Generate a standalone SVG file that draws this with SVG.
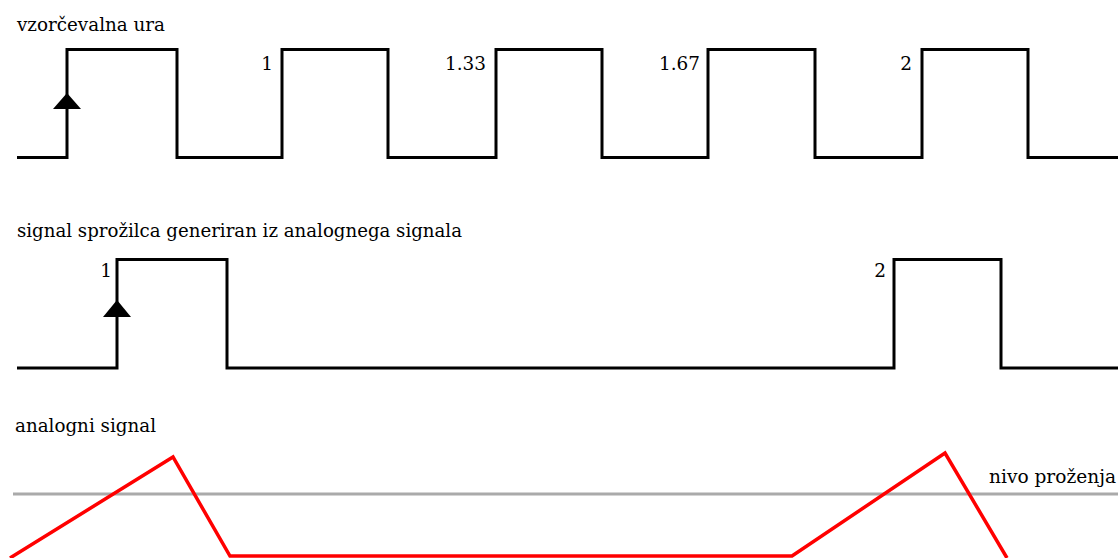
<svg xmlns="http://www.w3.org/2000/svg" width="1118" height="558" viewBox="0 0 1118 558">
  <style>
    .wave { fill: none; stroke: #000; stroke-width: 3; stroke-linejoin: miter; }
    text { font-family: 'DejaVu Serif', 'Liberation Serif', serif; font-size: 18px; fill: #000; }
    .num { text-anchor: end; font-size: 18.5px; }
    .level { stroke: #aaa; stroke-width: 3; }
    .analog { fill: none; stroke: #f00; stroke-width: 3.5; stroke-linejoin: miter; }
    .edge { fill: #000; }
  </style>
  <rect width="1118" height="558" fill="#fff"/>

  <!-- sampling clock -->
  <g id="clock">
    <text x="17" y="31" textLength="148" lengthAdjust="spacingAndGlyphs">vzorčevalna ura</text>
    <path class="wave" d="M17 157.5 H67 V49.5 H177 V157.5 H282 V49.5 H388 V157.5 H496 V49.5 H602 V157.5 H708 V49.5 H815 V157.5 H922 V49.5 H1028 V157.5 H1118"/>
    <polygon class="edge" points="67,93 53,109 81,109"/>
    <text class="num" x="273" y="70">1</text>
    <text class="num" x="486" y="70" textLength="41" lengthAdjust="spacingAndGlyphs">1.33</text>
    <text class="num" x="700" y="70" textLength="41" lengthAdjust="spacingAndGlyphs">1.67</text>
    <text class="num" x="912" y="70">2</text>
  </g>

  <!-- trigger signal -->
  <g id="trigger">
    <text x="17" y="237" textLength="445" lengthAdjust="spacingAndGlyphs">signal sprožilca generiran iz analognega signala</text>
    <path class="wave" d="M17 368 H117 V259.5 H227 V368 H894 V259.5 H1001 V368 H1118"/>
    <polygon class="edge" points="117,300 103,317 131,317"/>
    <text class="num" x="112" y="277">1</text>
    <text class="num" x="886" y="277">2</text>
  </g>

  <!-- analog signal with trigger level -->
  <g id="analog">
    <text x="15" y="432" textLength="141" lengthAdjust="spacingAndGlyphs">analogni signal</text>
    <line class="level" x1="13" y1="494" x2="1118" y2="494"/>
    <text x="989" y="483" textLength="127" lengthAdjust="spacingAndGlyphs">nivo proženja</text>
    <polyline class="analog" points="10,558 173,457 230,556 792,556 945,453 1007,558"/>
  </g>
</svg>
